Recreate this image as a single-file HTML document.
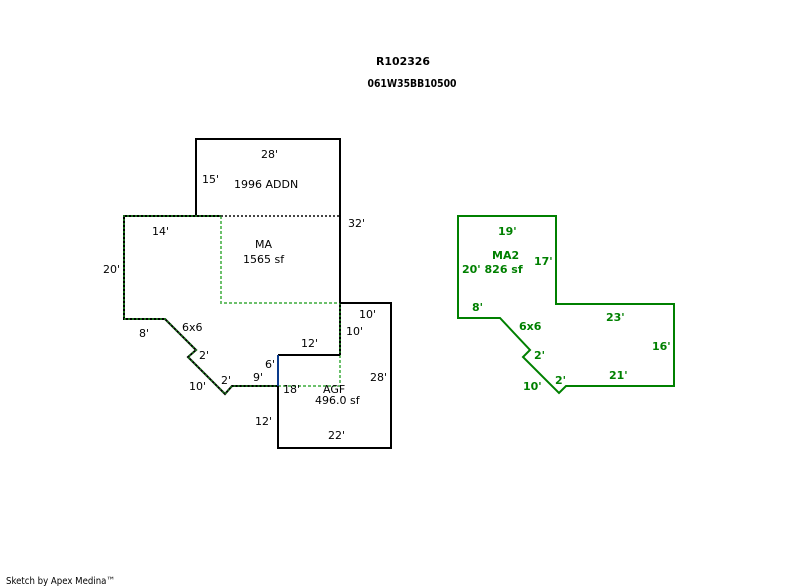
<!DOCTYPE html>
<html><head><meta charset="utf-8"><style>
html,body{margin:0;padding:0;background:#fff;}
svg{display:block;}
text{font-family:"DejaVu Sans","Liberation Sans",sans-serif;font-size:11px;fill:#000;}
.g{fill:#008000;font-weight:bold;}
.t{font-weight:bold;}
</style></head><body>
<svg width="800" height="587" viewBox="0 0 800 587" xmlns="http://www.w3.org/2000/svg">
<rect width="800" height="587" fill="#fff"/>
<g stroke="#6cc06c" stroke-width="2" stroke-dasharray="3,2" fill="none">
<path d="M221 216 V303 H340"/>
<path d="M278 386 H340 V355"/>
</g>
<path d="M221 216 H340" stroke="#444" stroke-width="2" stroke-dasharray="2,2" fill="none"/>
<path d="M196 216 V139 H340 V303" stroke="#000" stroke-width="2" fill="none"/>
<path d="M221 216 H124 V319 H165 L196 350 L188 357 L225 394 L232 386 H278" stroke="#000" stroke-width="2" fill="none"/>
<path d="M340 303 V355" stroke="#000" stroke-width="2" fill="none"/>
<path d="M221 216 H124 V319 H165 L196 350 L188 357 L225 394 L232 386 H278" stroke="#1a6a1a" stroke-width="2" stroke-dasharray="2,2" fill="none"/>
<path d="M340 303 V355" stroke="#1a6a1a" stroke-width="2" stroke-dasharray="2,2" fill="none"/>
<path d="M340 355 H278" stroke="#000" stroke-width="2" fill="none"/>
<path d="M278 355 V386" stroke="#0a3a8a" stroke-width="2" fill="none"/>
<path d="M340 303 H391 V448 H278 V386" stroke="#000" stroke-width="2" fill="none"/>
<path d="M458 216 H556 V304 H674 V386 H566 L559 393 L523 357 L530 350 L500 318 H458 Z" stroke="#008000" stroke-width="2" fill="none"/>

<text class="t" x="403" y="65" text-anchor="middle" textLength="54" lengthAdjust="spacingAndGlyphs">R102326</text>
<text class="t" x="412" y="87" text-anchor="middle" textLength="89" lengthAdjust="spacingAndGlyphs">061W35BB10500</text>

<text x="261" y="158">28'</text>
<text x="202" y="183">15'</text>
<text x="234" y="188">1996 ADDN</text>
<text x="348" y="227">32'</text>
<text x="152" y="235">14'</text>
<text x="255" y="248">MA</text>
<text x="243" y="263">1565 sf</text>
<text x="103" y="273">20'</text>
<text x="359" y="318">10'</text>
<text x="139" y="337">8'</text>
<text x="182" y="331">6x6</text>
<text x="346" y="335">10'</text>
<text x="301" y="347">12'</text>
<text x="199" y="359">2'</text>
<text x="265" y="368">6'</text>
<text x="370" y="381">28'</text>
<text x="221" y="384">2'</text>
<text x="253" y="381">9'</text>
<text x="189" y="390">10'</text>
<text x="283" y="393">18'</text>
<text x="323" y="393">AGF</text>
<text x="315" y="404">496.0 sf</text>
<text x="255" y="425">12'</text>
<text x="328" y="439">22'</text>

<text class="g" x="498" y="235">19'</text>
<text class="g" x="492" y="259">MA2</text>
<text class="g" x="462" y="273">20' 826 sf</text>
<text class="g" x="534" y="265">17'</text>
<text class="g" x="472" y="311">8'</text>
<text class="g" x="519" y="330">6x6</text>
<text class="g" x="606" y="321">23'</text>
<text class="g" x="652" y="350">16'</text>
<text class="g" x="534" y="359">2'</text>
<text class="g" x="555" y="384">2'</text>
<text class="g" x="609" y="379">21'</text>
<text class="g" x="523" y="390">10'</text>

<text x="6" y="584" style="font-size:10px" textLength="109" lengthAdjust="spacingAndGlyphs">Sketch by Apex Medina™</text>
</svg>
</body></html>
